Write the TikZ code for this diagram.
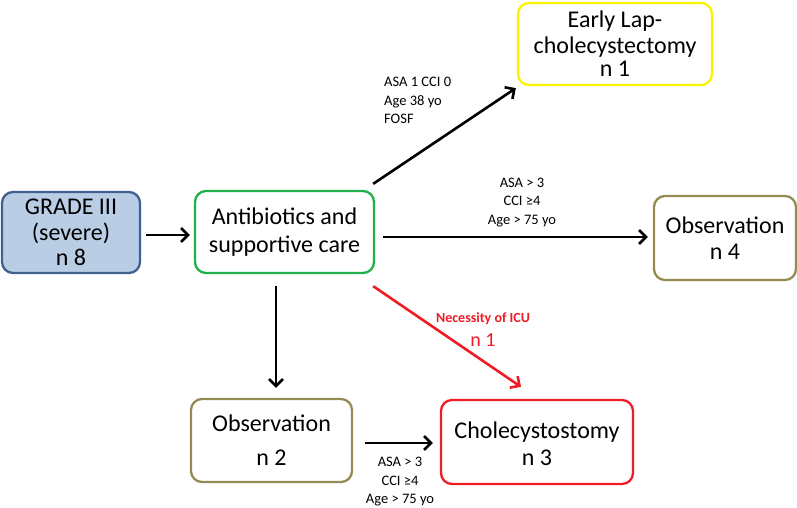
\documentclass[tikz,border=0pt]{standalone}
\usepackage{fontspec}
\setmainfont{Carlito}
\usetikzlibrary{arrows.meta}
\definecolor{gblue}{HTML}{B9CDE5}
\definecolor{gbluedk}{HTML}{41608E}
\definecolor{cgreen}{HTML}{22B04B}
\definecolor{cyellow}{HTML}{F8F400}
\definecolor{colive}{HTML}{948A54}
\definecolor{cred}{HTML}{EE1C24}
\tikzset{
  box/.style={draw, rounded corners=11pt, line width=2.3pt, inner sep=0pt, align=center,
    font=\fontsize{24}{28}\selectfont},
  arr/.style={line width=2.6pt, -{Straight Barb[length=7pt,width=14pt,line width=2.6pt]}},
  lab/.style={inner sep=0pt, font=\fontsize{14.5}{18.5}\selectfont},
}
\begin{document}
\begin{tikzpicture}[x=1pt,y=-1pt]
\useasboundingbox (0,0) rectangle (797,507);
\node[box, draw=gbluedk, fill=gblue, minimum width=138pt, minimum height=81pt,
  font=\fontsize{24}{25.5}\selectfont] (grade) at (71,232.5) {GRADE III\\(severe)\\n 8};
\node[box, draw=cgreen, minimum width=179pt, minimum height=82pt] (ab) at (284.5,232) {Antibiotics and\\supportive care};
\node[box, draw=cyellow, minimum width=194pt, minimum height=82pt,
  font=\fontsize{24}{26}\selectfont] (early) at (615,44) {Early Lap-\\cholecystectomy\\[-3pt]n 1};
\node[box, draw=colive, minimum width=142pt, minimum height=84pt] (obs4) at (725,238) {Observation\\[-2pt]n 4};
\node[box, draw=colive, minimum width=161pt, minimum height=83pt] (obs2) at (271.5,440.5) {Observation\\[6pt]n 2};
\node[box, draw=cred, minimum width=192pt, minimum height=84pt] (chol) at (537,442) {\\[-8pt]Cholecystostomy\\[-1pt]n 3};

\draw[arr, shorten <=5pt, shorten >=4pt] (grade.east |- 0,235) -- (ab.west |- 0,235);
\draw[arr] ([shift={(-2,-6)}]ab.north east) -- ([shift={(-1,2)}]early.south west);
\draw[arr, shorten <=8pt, shorten >=5pt] (ab.east |- 0,237) -- (obs4.west |- 0,237);
\draw[arr, shorten <=12pt, shorten >=10pt] ([xshift=-8.5pt]ab.south) -- ([xshift=-8.5pt]ab.south |- obs2.north);
\draw[arr, draw=cred, -{Straight Barb[length=7pt,width=14pt,line width=2.6pt,color=cred]}]
  ([shift={(-2,12)}]ab.south east) -- ([shift={(-16,-12)}]chol.north);
\draw[arr, shorten <=12pt, shorten >=7pt] (obs2.east |- 0,443) -- (chol.west |- 0,443);

\node[lab, anchor=north west, align=left] (l1) at (384,77) {ASA 1 CCI 0\\Age 38 yo\\FOSF};
\node[lab, align=center] (l2) at (522,202.5) {ASA > 3\\CCI ≥4\\Age > 75 yo};
\node[lab, align=center, text=cred, font=\bfseries\fontsize{14}{18}\selectfont] (l3) at (483,319) {Necessity of ICU};
\node[lab, align=center, text=cred, font=\fontsize{20}{22}\selectfont] (l4) at (483,340) {n 1};
\node[lab, align=center] (l5) at (400,482) {ASA > 3\\CCI ≥4\\Age > 75 yo};
\end{tikzpicture}
\end{document}
